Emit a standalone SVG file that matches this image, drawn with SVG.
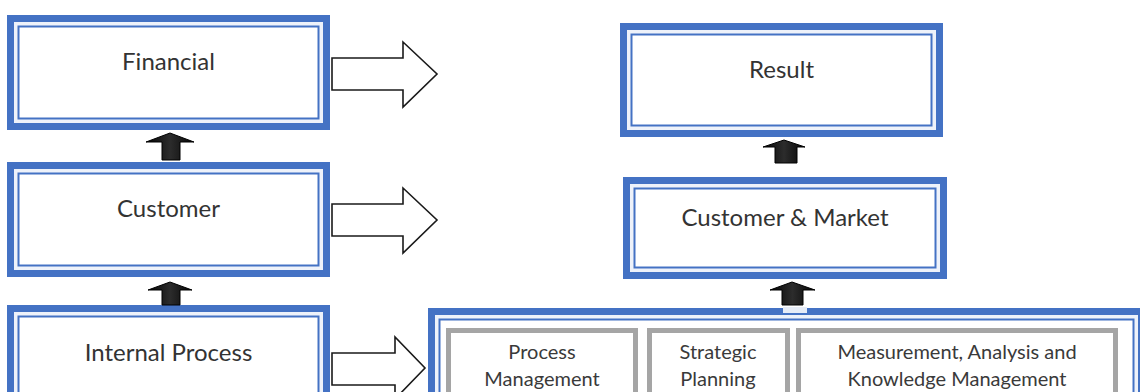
<svg xmlns="http://www.w3.org/2000/svg" width="1140" height="392" viewBox="0 0 1140 392">
  <style>
    .frame { fill: #eef2fa; stroke: #4472c4; stroke-width: 7; }
    .inner { fill: #ffffff; stroke: #4472c4; stroke-width: 2; }
    .cell { fill: #ffffff; stroke: #a5a5a5; stroke-width: 5; }
    .label { font-family: Lato, "Open Sans", "Liberation Sans", sans-serif; font-size: 24px; fill: #333333; text-anchor: middle; }
    .small { font-family: Lato, "Open Sans", "Liberation Sans", sans-serif; font-size: 20px; fill: #3a3a3a; text-anchor: middle; }
    .hollow { fill: #ffffff; stroke: #1a1a1a; stroke-width: 1.6; stroke-linejoin: miter; }
    .solid { fill: url(#dark); stroke: #000000; stroke-width: 1; }
  </style>
  <defs>
    <linearGradient id="dark" x1="0" y1="0" x2="1" y2="0">
      <stop offset="0" stop-color="#050505"/>
      <stop offset="0.5" stop-color="#2c2c2c"/>
      <stop offset="1" stop-color="#050505"/>
    </linearGradient>
  </defs>
  <rect width="1140" height="392" fill="#ffffff"/>

  <!-- left column -->
  <g id="financial">
    <rect class="frame" x="10.5" y="18.5" width="316" height="108"/>
    <rect class="inner" x="18.5" y="26.5" width="300" height="92"/>
    <text class="label" x="168.5" y="70">Financial</text>
  </g>
  <g id="customer">
    <rect class="frame" x="10.5" y="165.5" width="316" height="108"/>
    <rect class="inner" x="18.5" y="173.5" width="300" height="92"/>
    <text class="label" x="168.5" y="217">Customer</text>
  </g>
  <g id="internal-process">
    <rect class="frame" x="10.5" y="308.5" width="316" height="108"/>
    <rect class="inner" x="18.5" y="316.5" width="300" height="92"/>
    <text class="label" x="168.5" y="361">Internal Process</text>
  </g>

  <!-- right column -->
  <g id="result">
    <rect class="frame" x="623.5" y="26.5" width="316" height="107"/>
    <rect class="inner" x="631.5" y="34.5" width="300" height="91"/>
    <text class="label" x="781.5" y="78">Result</text>
  </g>
  <g id="customer-market">
    <rect class="frame" x="626.5" y="180.5" width="317" height="95"/>
    <rect class="inner" x="634.5" y="188.5" width="301" height="79"/>
    <text class="label" x="785" y="226">Customer &amp; Market</text>
  </g>
  <g id="enablers">
    <rect class="frame" x="431.5" y="311.5" width="710" height="120"/>
    <rect class="inner" x="439.5" y="319.5" width="694" height="104"/>
    <g id="process-management">
      <rect class="cell" x="448.5" y="330.5" width="187" height="90"/>
      <text class="small" x="542" y="359">Process</text>
      <text class="small" x="542" y="386">Management</text>
    </g>
    <g id="strategic-planning">
      <rect class="cell" x="649.5" y="330.5" width="138" height="90"/>
      <text class="small" x="718" y="359">Strategic</text>
      <text class="small" x="718" y="386">Planning</text>
    </g>
    <g id="measurement">
      <rect class="cell" x="798.5" y="330.5" width="317" height="90"/>
      <text class="small" x="957" y="359">Measurement, Analysis and</text>
      <text class="small" x="957" y="386">Knowledge Management</text>
    </g>
  </g>

  <!-- connectors -->
  <g id="connectors">
    <polygon class="hollow" points="332,58 403,58 403,42 437,74 403,107 403,90 332,90"/>
    <polygon class="hollow" points="332,204 403,204 403,188 437,220 403,253 403,236 332,236"/>
    <polygon class="hollow" points="332,353 395,353 395,337 425,368 395,399 395,385 332,385"/>
    <polygon class="solid" points="162,160 162,142 146,142 170,133 194,142 180,142 180,160"/>
    <polygon class="solid" points="162,305 162,290 148,290 170,282 192,290 180,290 180,305"/>
    <polygon class="solid" points="775,163 775,147 763,147 784,140 805,147 797,147 797,163"/>
    <polygon class="solid" points="782,305 782,290 770,290 792,282 815,290 803,290 803,305"/>
    <rect x="783" y="307" width="24" height="6" fill="#e6ecf7"/>
  </g>
</svg>
